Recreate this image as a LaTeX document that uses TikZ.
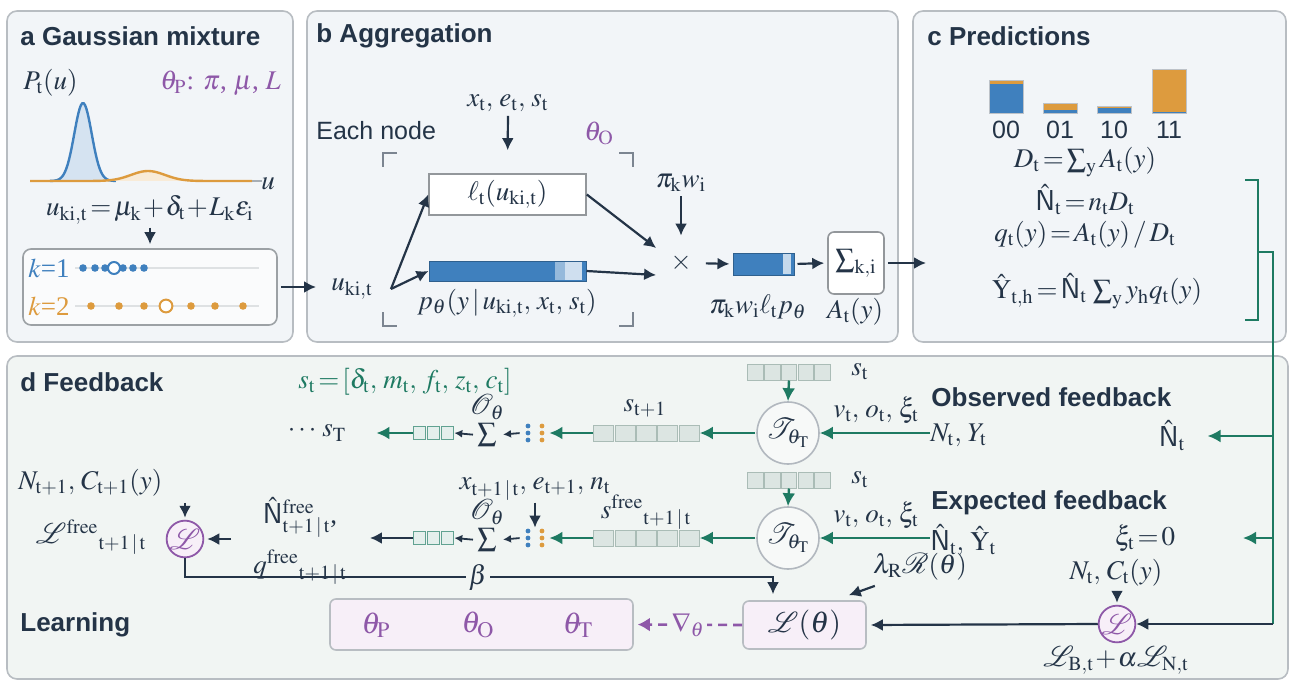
\documentclass[tikz,border=0pt]{standalone}
\usepackage{amsmath}
\usepackage{mathptmx}
\usepackage{mathrsfs}
\usepackage{fontspec}
\setmainfont{Liberation Serif}
\setsansfont{Liberation Sans}
\usepackage{xcolor}
\usepackage{tikz}
\usetikzlibrary{positioning, arrows.meta, calc}
\definecolor{inkcolor}{RGB}{36, 52, 71}
\definecolor{fbgreen}{RGB}{30, 122, 98}
\definecolor{thetacolor}{RGB}{142, 88, 168}
\definecolor{mixblue}{RGB}{63, 128, 190}
\definecolor{mixorange}{RGB}{221, 155, 62}
\definecolor{panelfill}{RGB}{242, 245, 248}
\definecolor{panelline}{RGB}{184, 189, 194}
\definecolor{feedfill}{RGB}{241, 245, 243}
\definecolor{cellfill}{RGB}{220, 229, 226}
\definecolor{cellline}{RGB}{170, 188, 182}
\definecolor{lossfill}{RGB}{247, 239, 248}
\newcommand{\Nhat}{\hat{\mathsf{N}}}
\newcommand{\lsep}{,\;}

\begin{document}
\begin{tikzpicture}[
  x=0.5pt, y=-0.5pt,
  font={\fontsize{13.5}{16}\selectfont\thickmuskip=2mu\medmuskip=1mu}, text=inkcolor,
  panel/.style={draw=panelline, fill=panelfill, line width=0.8pt, rounded corners=5pt},
  heading/.style={font=\sffamily\bfseries\fontsize{13}{15}\selectfont, anchor=west, inner sep=0pt},
  lbl/.style={inner sep=0pt},
  arr/.style={draw=inkcolor, line width=1.1pt, -{Latex[length=6pt,width=6pt]}},
  tinyarr/.style={draw=inkcolor, line width=0.9pt, -{Latex[length=4pt,width=4pt]}},
  fbarr/.style={draw=fbgreen, line width=1.2pt, -{Latex[length=6.5pt,width=6.5pt]}},
  brk/.style={draw=inkcolor!60, line width=0.8pt},
  cell/.style={draw=cellline, fill=cellfill, line width=0.5pt, minimum width=10pt, minimum height=8pt, inner sep=0pt},
  upcell/.style={cell, minimum width=7.8pt},
  outcell/.style={draw=fbgreen!70, fill=fbgreen!12, line width=0.5pt, minimum width=6pt, minimum height=6.5pt, inner sep=0pt},
  transfer/.style={circle, draw=inkcolor!35, fill=feedfill!60!white, line width=0.8pt, minimum size=31pt, inner sep=0pt},
  lossnode/.style={circle, draw=thetacolor, fill=lossfill, line width=0.9pt, minimum size=15pt, inner sep=0pt, text=thetacolor},
  parambox/.style={draw=panelline, fill=lossfill, line width=0.8pt, rounded corners=3pt, inner sep=0pt}
]
\useasboundingbox (0,0) rectangle (1292,681);
\draw[panel] (7,11) rectangle (293,342);
\draw[panel] (307,11) rectangle (898,342);
\draw[panel] (913,11) rectangle (1286,342);
\draw[panel, fill=feedfill] (7,356) rectangle (1288,679);

% a
\node[heading] (heada) at (20,36) {a Gaussian mixture};
\node[lbl, anchor=west] (density) at (23,83) {$P_{\mathrm{t}}(u)$};
\node[lbl, anchor=west, text=thetacolor] (thetap) at (160,83) {$\theta_{\mathrm{P}}$: $\pi$, $\mu$, $L$};
\fill[mixblue!22] plot[domain=50:116, samples=50] (\x, {181-78*exp(-0.5*((\x-83)/8.7)^2)}) -- cycle;
\draw[mixblue, line width=1.2pt] plot[domain=50:116, samples=50] (\x, {181-78*exp(-0.5*((\x-83)/8.7)^2)});
\fill[mixorange!20] plot[domain=100:200, samples=50] (\x, {181-10*exp(-0.5*((\x-148)/17)^2)}) -- cycle;
\draw[mixorange, line width=1.2pt] plot[domain=30:252, samples=90] (\x, {181-10*exp(-0.5*((\x-148)/17)^2)});
\draw[inkcolor!40, line width=0.8pt] (252,181) -- (262,181);
\node[lbl] (axisu) at (268,184) {$u$};
\node[lbl] (sampleeq) at (150,210) {$u_{\mathrm{ki,t}} = \mu_{\mathrm{k}} + \delta_{\mathrm{t}} + L_{\mathrm{k}}\varepsilon_{\mathrm{i}}$};
\node[draw=panelline!85!black, fill=panelfill!40!white, rounded corners=4pt, line width=0.8pt, minimum width=127pt, minimum height=38pt, inner sep=0pt] (samples) at (150,287) {};
\draw[arr, shorten <=1.5pt, shorten >=2pt] (sampleeq.south) -- (samples.north);
\node[lbl, anchor=west, text=mixblue] (kone) at (28,268) {$k$=1};
\node[lbl, anchor=west, text=mixorange] (ktwo) at (28,306) {$k$=2};
\draw[inkcolor!15, line width=0.7pt] (75,268) -- (259,268);
\draw[inkcolor!15, line width=0.7pt] (75,306) -- (259,306);
\foreach \dx in {83,95,105,123,133,144} \fill[mixblue] (\dx,268) circle (1.9pt);
\draw[mixblue, fill=white, line width=1pt] (114,268) circle (3pt);
\foreach \dx in {91,119,144,191,215,243} \fill[mixorange] (\dx,306) circle (1.9pt);
\draw[mixorange, fill=white, line width=1pt] (166,306) circle (3.2pt);

% b
\node[heading] (headb) at (316,36) {b Aggregation};
\node[lbl, anchor=west, font=\sffamily\fontsize{12.5}{15}\selectfont] (eachnode) at (316,131) {Each node};
\draw[brk] (397,153) -- (383,153) -- (383,167);
\draw[brk] (619,153) -- (633,153) -- (633,167);
\draw[brk] (383,312) -- (383,326) -- (397,326);
\draw[brk] (633,312) -- (633,326) -- (619,326);
\node[lbl] (ukit) at (352,289) {$u_{\mathrm{ki,t}}$};
\draw[arr, shorten <=1.5pt, shorten >=7.5pt] (samples.east) -- (samples.east -| ukit.west);
\node[lbl] (inputs) at (508,103) {$x_{\mathrm{t}}\lsep e_{\mathrm{t}}\lsep s_{\mathrm{t}}$};
\node[lbl, text=thetacolor] (thetao) at (599,133) {$\theta_{\mathrm{O}}$};
\node[draw=panelline!80!black, fill=white, line width=0.8pt, minimum width=78.5pt, minimum height=20.5pt, inner sep=0pt] (likeli) at (507.5,194.5) {$\ell_{\mathrm{t}}(u_{\mathrm{ki,t}})$};
\draw[arr, shorten <=2pt, shorten >=11.5pt] (inputs.south) -- (likeli.north);
\node[draw=mixblue!75!black, fill=mixblue, line width=0.5pt, minimum width=78.5pt, minimum height=10pt, inner sep=0pt] (outbar) at (507.5,271) {};
\fill[mixblue!55!white] (555,262) rectangle (565,280);
\fill[mixblue!25!white] (565,262) rectangle (582,280);
\node[lbl] (outlabel) at (507,303) {$p_{\theta}(y \mid u_{\mathrm{ki,t}}\lsep x_{\mathrm{t}}\lsep s_{\mathrm{t}})$};
\coordinate[right=9pt of ukit.east] (split);
\draw[arr] (split) -- (likeli.west);
\draw[arr] (split) -- (outbar.west);
\node[lbl] (product) at (681,263) {$\times$};
\draw[arr] (likeli.east) -- ($(product.west)+(-14,-15)$);
\draw[arr] (outbar.east) -- ($(product.west)+(-14,12)$);
\node[lbl] (weights) at (681,183) {$\pi_{\mathrm{k}} w_{\mathrm{i}}$};
\draw[arr, shorten <=2pt, shorten >=9pt] (weights.south) -- (product.north);
\node[draw=mixblue!75!black, fill=mixblue, line width=0.5pt, minimum width=30.5pt, minimum height=11pt, inner sep=0pt] (wbar) at (763.5,264) {};
\fill[mixblue!30!white] (783,254) rectangle (791,274);
\draw[arr, shorten <=7pt, shorten >=1.5pt] (product.east) -- (wbar.west);
\node[lbl] (wlabel) at (758,307) {$\pi_{\mathrm{k}} w_{\mathrm{i}} \ell_{\mathrm{t}} p_{\theta}$};
\node[draw=panelline!80!black, fill=white, rounded corners=3pt, line width=0.8pt, minimum width=28pt, minimum height=31pt, inner sep=0pt] (sumki) at (856,263) {$\textstyle\sum_{\mathrm{k,i}}$};
\draw[arr, shorten <=1.5pt, shorten >=1.5pt] (wbar.east) -- (sumki.west);
\node[lbl] (aty) at (855,312) {$A_{\mathrm{t}}(y)$};
\coordinate (predin) at (926,263);
\draw[arr, shorten <=1.5pt] (sumki.east) -- (predin);

% c
\node[heading] (headc) at (927,36) {c Predictions};
\foreach \bx/\otop/\btop/\bits in {989/80/84/00, 1043/103/110/01, 1097/106/108/10, 1152/69/112/11} {
  \fill[mixorange] (\bx,\otop) rectangle (\bx+34,\btop);
  \fill[mixblue] (\bx,\btop) rectangle (\bx+34,113);
  \draw[inkcolor!30, line width=0.5pt] (\bx,\otop) rectangle (\bx+34,113);
  \node[lbl, font=\sffamily\fontsize{12.5}{15}\selectfont] (code\bits) at (\bx+17,130) {\bits};
}
\node[lbl] (dsum) at (1085,162) {$D_{\mathrm{t}} = \textstyle\sum_{\mathrm{y}} A_{\mathrm{t}}(y)$};
\node[lbl] (nhat) at (1085,200) {$\Nhat_{\mathrm{t}} = n_{\mathrm{t}} D_{\mathrm{t}}$};
\node[lbl] (qdef) at (1085,235) {$q_{\mathrm{t}}(y) = A_{\mathrm{t}}(y) \,/\, D_{\mathrm{t}}$};
\node[lbl] (yhat) at (1097,291) {$\hat{\mathrm{Y}}_{\mathrm{t,h}} = \Nhat_{\mathrm{t}}\, \textstyle\sum_{\mathrm{y}} y_{\mathrm{h}} q_{\mathrm{t}}(y)$};
\draw[fbgreen, line width=1pt] (1245,180) -- (1258,180) -- (1258,320) -- (1245,320);
\coordinate (fbtap) at (1273,252);

% d
\node[heading] (headd) at (20,382) {d Feedback};
\node[heading] (headl) at (20,625) {Learning};
\node[lbl, text=fbgreen] (stdef) at (405,382) {$s_{\mathrm{t}} = [\delta_{\mathrm{t}}\lsep m_{\mathrm{t}}\lsep f_{\mathrm{t}}\lsep z_{\mathrm{t}}\lsep c_{\mathrm{t}}]$};
\foreach \row/\yy/\upy in {obs/433/372, exp/538/480} {
  \node[transfer] (trans\row) at (788,\yy) {$\mathscr{T}_{\theta_{\mathrm{T}}}$};
  \foreach \cellno in {1,...,5} {
    \node[upcell] (up\row\cellno) at (738.6+16.8*\cellno,\upy) {};
    \node[cell] (st\row\cellno) at (582.3+21.4*\cellno,\yy) {};
  }
  \foreach \cellno in {1,2,3} \node[outcell] (sc\row\cellno) at (404.9+14.3*\cellno,\yy) {};
  \node[lbl, anchor=west] (sup\row) at (851,\upy) {$s_{\mathrm{t}}$};
  \draw[fbarr] (up\row3.south) -- (trans\row.north);
  \draw[fbarr, shorten <=0.5pt] (trans\row.west) -- (st\row5.east);
  \node[minimum width=14pt, minimum height=10pt, inner sep=0pt] (mix\row) at (535,\yy) {};
  \foreach \dy in {-7,0,7} {
    \fill[mixblue] (528,\yy+\dy) circle (1.2pt);
    \fill[mixorange] (542,\yy+\dy) circle (1.2pt);
  }
  \draw[fbarr] (st\row1.west) -- (mix\row.east);
  \node[lbl] (sum\row) at (487,\yy+2) {$\textstyle\sum$};
  \node[lbl] (readout\row) at (487,\yy-26) {$\mathscr{O}_{\theta}$};
  \draw[tinyarr, shorten <=0.5pt, shorten >=3pt] (mix\row.west) -- (sum\row.east);
  \draw[tinyarr, shorten <=2pt] (sum\row.west) -- (sc\row3.east);
  \node[lbl] (drv\row) at (876,\yy-23) {$v_{\mathrm{t}}\lsep o_{\mathrm{t}}\lsep \xi_{\mathrm{t}}$};
}
\node[lbl] (sfinal) at (317,433) {$\cdots\, s_{\mathrm{T}}$};
\draw[fbarr, shorten >=15pt] (scobs1.west) -- (scobs1.west -| sfinal.east);
\node[lbl] (snext) at (645,408) {$s_{\mathrm{t+1}}$};
\node[lbl] (sfree) at (646,512) {${s^{\mathrm{free}}}_{\mathrm{t+1\,|\,t}}$};
\node[lbl] (xnext) at (535,489) {$x_{\mathrm{t+1\,|\,t}}\lsep e_{\mathrm{t+1}}\lsep n_{\mathrm{t}}$};
\draw[arr, shorten <=1pt] (mixexp.north |- xnext.south) -- (mixexp.north);

\node[heading] (obshead) at (931,397) {Observed feedback};
\node[lbl, anchor=west] (obsin) at (930,435) {$N_{\mathrm{t}}\lsep Y_{\mathrm{t}}$};
\draw[fbarr] (obsin.west |- transobs) -- (transobs.east);
\node[lbl] (nobs) at (1172,436) {$\Nhat_{\mathrm{t}}$};
\node[heading] (exphead) at (931,503) {Expected feedback};
\node[lbl, anchor=west] (expvals) at (930,540) {$\Nhat_{\mathrm{t}}\lsep \hat{\mathrm{Y}}_{\mathrm{t}}$};
\draw[fbarr] (expvals.west |- transexp) -- (transexp.east);
\node[lbl] (xizero) at (1145,538) {$\xi_{\mathrm{t}} = 0$};
\coordinate (expfeed) at (1243,538);

\node[lbl, align=center] (freepred) at (300,541) {${\Nhat^{\mathrm{free}}}_{\mathrm{t+1\,|\,t}}$,\\[5pt]${q^{\mathrm{free}}}_{\mathrm{t+1\,|\,t}}$};
\draw[arr, shorten >=11.5pt] (scexp1.west) -- (scexp1.west -| freepred.east);
\node[lossnode] (lossfree) at (185,539) {$\mathscr{L}$};
\draw[arr, shorten <=11pt, shorten >=1.5pt] (freepred.west |- lossfree) -- (lossfree.east);
\node[lbl, anchor=west] (nnext) at (18,483) {$N_{\mathrm{t+1}}\lsep C_{\mathrm{t+1}}(y)$};
\draw[arr, shorten <=3pt, shorten >=1pt] (lossfree.north |- nnext.south) -- (lossfree.north);
\node[lbl] (lfree) at (91,537) {${\mathscr{L}^{\mathrm{free}}}_{\mathrm{t+1\,|\,t}}$};

\node[parambox, minimum width=151.5pt, minimum height=25.5pt] (params) at (481.5,624.5) {};
\node[lbl, text=thetacolor, font=\fontsize{15}{17}\selectfont] (thp) at (376,625) {$\theta_{\mathrm{P}}$};
\node[lbl, text=thetacolor, font=\fontsize{15}{17}\selectfont] (tho) at (478,625) {$\theta_{\mathrm{O}}$};
\node[lbl, text=thetacolor, font=\fontsize{15}{17}\selectfont] (tht) at (578,625) {$\theta_{\mathrm{T}}$};
\node[parambox, minimum width=61.5pt, minimum height=24pt, font=\fontsize{15}{17}\selectfont] (lossth) at (804.5,625) {$\mathscr{L}(\theta)$};
\draw[thetacolor, line width=1.3pt, dash pattern=on 4.5pt off 3pt, -{Latex[length=6pt,width=7pt]}, shorten >=2pt] (lossth.west) -- node[fill=feedfill, inner sep=1.5pt, text=thetacolor] (gradlbl) {$\nabla_{\theta}$} (params.east);
\coordinate (betacorner) at (773,577);
\draw[arr, shorten >=3pt] (lossfree.south) |- (betacorner) -- (betacorner |- lossth.north);
\node[lbl, fill=feedfill, inner xsep=1.5pt] (betalbl) at (478,577) {$\beta$};
\node[lbl] (regul) at (920,567) {$\lambda_{\mathrm{R}}\mathscr{R}(\theta)$};
\draw[arr] ($(regul.south west)+(2,5)$) -- ($(lossth.north east)+(-18,-5)$);

\node[lossnode, minimum size=16pt] (lossb) at (1117,624) {$\mathscr{L}$};
\node[lbl] (ncnow) at (1116,573) {$N_{\mathrm{t}}\lsep C_{\mathrm{t}}(y)$};
\draw[arr, shorten <=2pt, shorten >=1pt] (lossb.north |- ncnow.south) -- (lossb.north);
\node[lbl] (lossterms) at (1116,660) {$\mathscr{L}_{\mathrm{B,t}} + \alpha\mathscr{L}_{\mathrm{N,t}}$};
\draw[arr, shorten >=2pt] (lossb.west) -- (lossth.east);

\draw[fbgreen, line width=1.2pt] (1258,252) -- (fbtap) -- (fbtap |- lossb.east);
\draw[arr] (fbtap |- lossb.east) -- (lossb.east);
\draw[fbarr, shorten >=11pt] (fbtap |- nobs) -- (nobs.east);
\draw[fbarr] (fbtap |- expfeed) -- (expfeed);
\end{tikzpicture}
\end{document}
